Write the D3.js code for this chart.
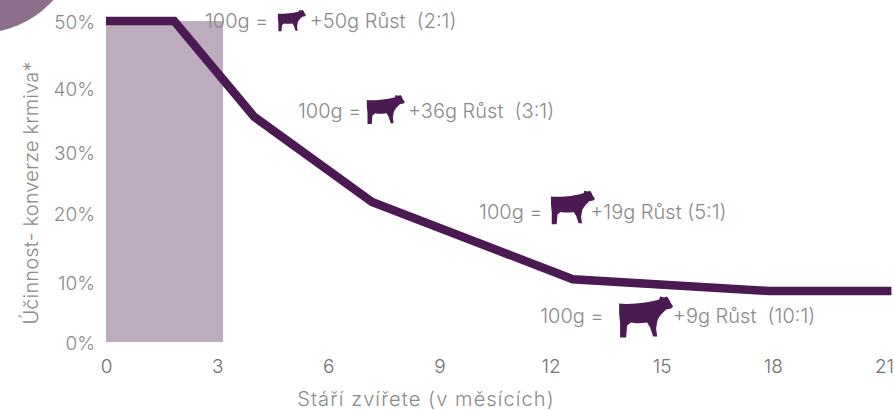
<!DOCTYPE html>
<html><head><meta charset="utf-8">
<script src="https://cdn.jsdelivr.net/npm/d3@7"></script>
<style>html,body{margin:0;padding:0;background:#fff}svg{display:block}text{font-family:"Inter","Lato",sans-serif;font-weight:300}</style>
</head><body><svg id="c" width="894" height="411"></svg>
<script>
const xTicks=[0,3,6,9,12,15,18,21];
const yTicks=[0,10,20,30,40,50];
const lineMonths=[0,1.84,4.0,7.18,12.6,17.9,21.2];
const lineEfficiency=[50,50,35.5,21.8,10.4,8.5,8.5];
const bandMonths=[0,3.16];
const bandEfficiency=[0,50];
const annoText=["+50g Růst  (2:1)","+36g Růst  (3:1)","+19g Růst (5:1)","+9g Růst  (10:1)"];
const annoMonth=[2.67,5.18,10.07,11.72];
const annoEff=[50,36.4,20.2,4.4];
const cowMonth=[4.64,7.04,12.01,13.85];
const cowWidth=[28,38,44,54];
const cowRaise=[18,23,28,26];
const growthX=[5.5,8.15,13.07,15.3];

const svg=d3.select("#c");
const x=d3.scaleLinear().domain([0,21]).range([106,884]);
const y=d3.scaleLinear().domain(yTicks).range([342,282,213,152,88,21]);
const purple="#4b1a52",grey="#8a8a8a";
const cow="M0 7 C8 8 18 7 26 6 C32 5 37 4 40 3 L41 0 L45 1 L48 0 L50 3 C51 6 53 8 54 10 L52 12 L47 13 L42 18 C40 21 38 23 38 26 L37 32 L38 40 L34 40 L31 31 L28 26 C22 27 16 27 12 26 L8 29 L7 41 L1 41 L1 27 L0 16 Z";

svg.append("circle").attr("cx",-20).attr("cy",-65).attr("r",98).attr("fill","#8d6f8d");
svg.append("rect").attr("x",x(bandMonths[0])).attr("width",x(bandMonths[1])-x(bandMonths[0]))
 .attr("y",y(bandEfficiency[1])).attr("height",y(bandEfficiency[0])-y(bandEfficiency[1])).attr("fill","#bdacbd");
const pts=lineMonths.map((m,i)=>[m,lineEfficiency[i]]);
svg.append("path").attr("d",d3.line().x(d=>x(d[0])).y(d=>y(d[1]))(pts)).attr("fill","none")
 .attr("stroke",purple).attr("stroke-width",8.5);

const xa=svg.append("g").attr("transform","translate(0,356)").call(d3.axisBottom(x).tickValues(xTicks).tickSize(0));
xa.select(".domain").remove();
xa.selectAll("text").attr("font-size",19).attr("fill","#77706f").style("font-family",'"Inter"').style("font-weight",300);
const ya=svg.append("g").attr("transform","translate(95,1)").call(d3.axisLeft(y).tickValues(yTicks).tickFormat(d=>d+"%").tickSize(0).tickPadding(0));
ya.select(".domain").remove();
ya.selectAll("text").attr("font-size",19).attr("fill","#8a8a8a").style("font-family",'"Inter"').style("font-weight",300);

svg.append("text").attr("x",426).attr("y",406).attr("text-anchor","middle").attr("font-size",20).attr("letter-spacing",1.1).attr("fill",grey).text("Stáří zvířete (v měsících)");
svg.append("text").attr("transform","translate(38,193) rotate(-90)").attr("text-anchor","middle").attr("font-size",20).attr("letter-spacing",0.15).attr("fill",grey).text("Účinnost- konverze krmiva*");

const g=svg.append("g");
annoText.forEach((t,i)=>{
  const yy=y(annoEff[i])+7;
  g.append("text").attr("x",x(annoMonth[i])).attr("y",yy).attr("font-size",20).attr("fill",grey).text("100g =");
  const s=cowWidth[i]/54;
  g.append("path").attr("d",cow).attr("fill",purple).attr("transform",`translate(${x(cowMonth[i])},${yy-cowRaise[i]}) scale(${s})`);
  g.append("text").attr("x",x(growthX[i])).attr("y",yy).attr("font-size",20).attr("fill",grey).style("white-space","pre").text(t);
});
</script></body></html>
